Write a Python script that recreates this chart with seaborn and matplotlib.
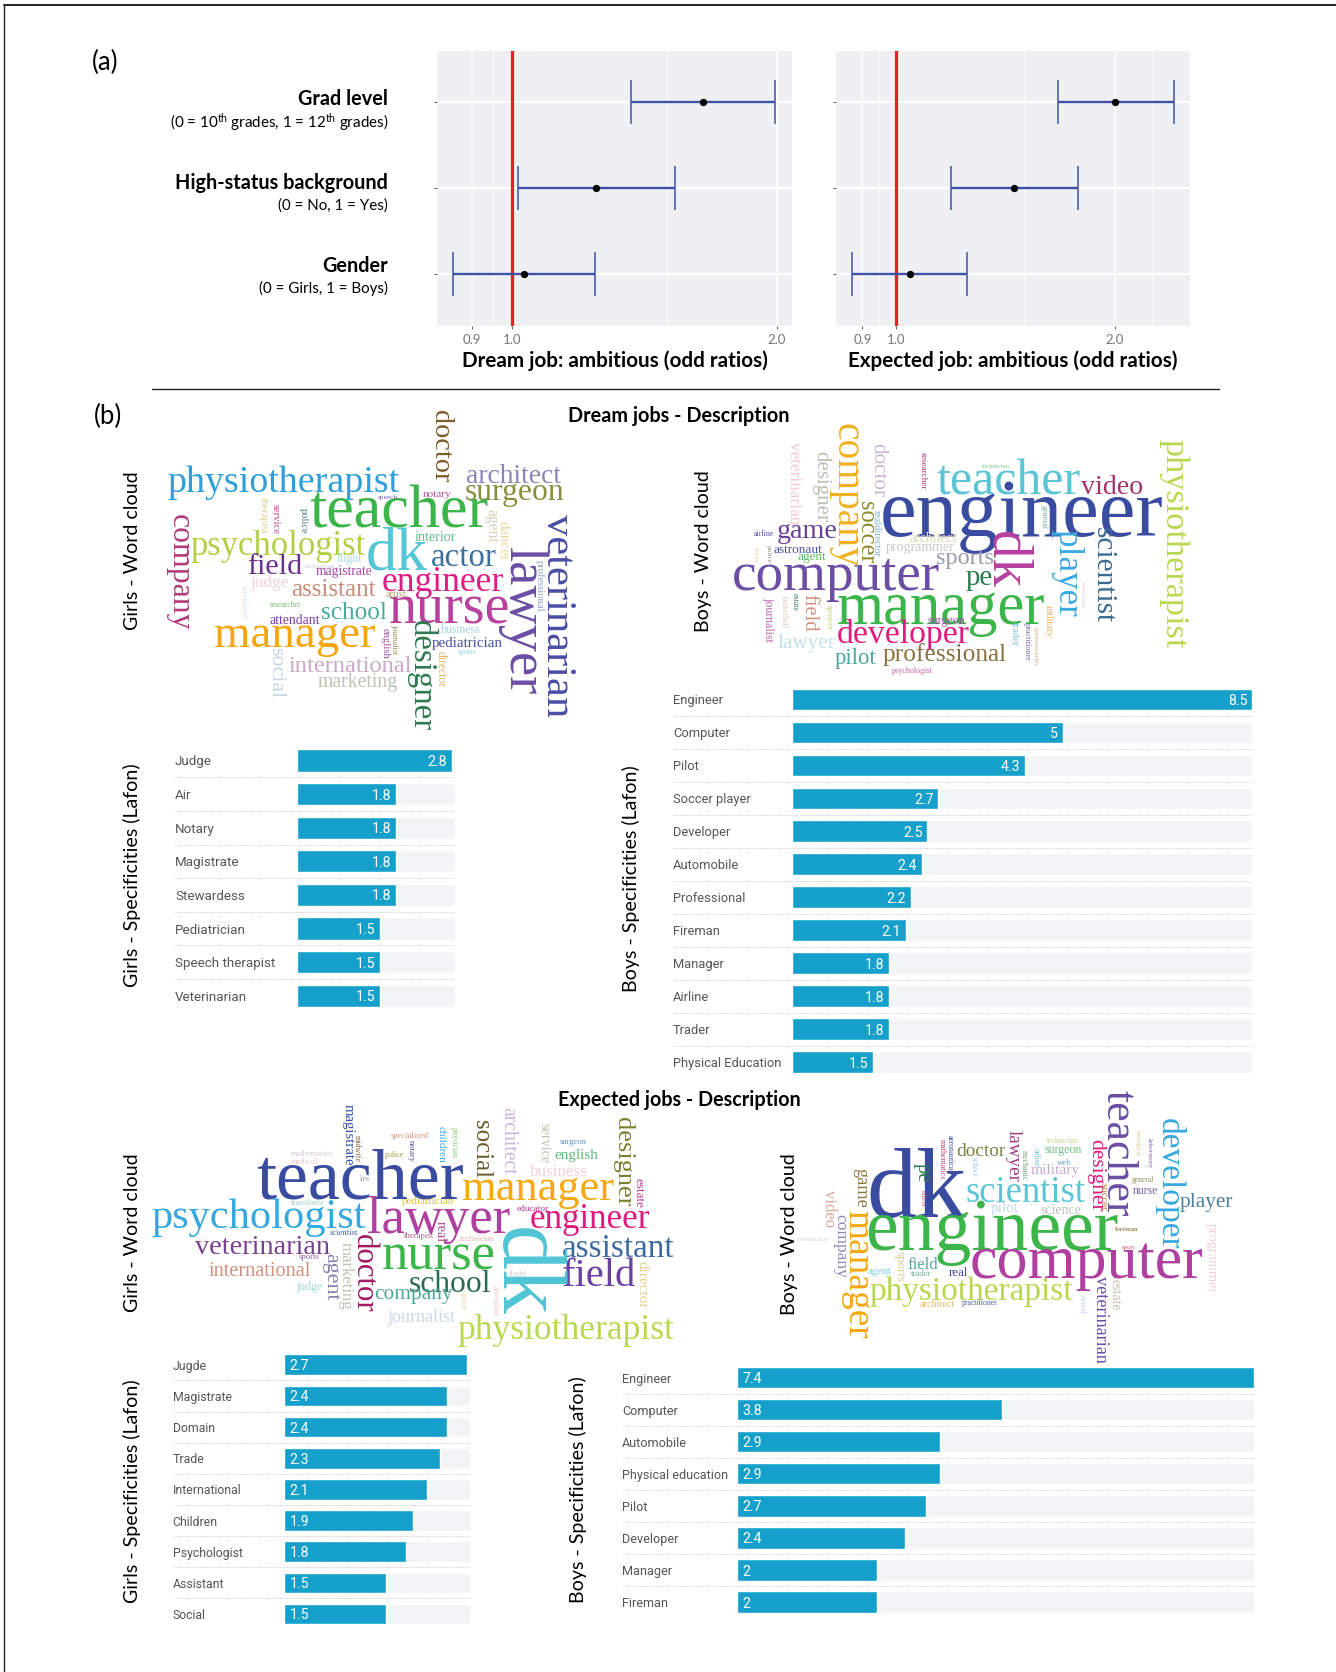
#!/usr/bin/env python3
import matplotlib
matplotlib.use('Agg')
import matplotlib.pyplot as plt
import seaborn as sns
from matplotlib.font_manager import FontProperties
from matplotlib.lines import Line2D
from matplotlib.textpath import TextPath

# ---- panel (a): odds ratios
predictors = ['Grad level', 'High-status background', 'Gender']
predictor_notes = ['(0 = 10$^{th}$ grades, 1 = 12$^{th}$ grades)', '(0 = No, 1 = Yes)', '(0 = Girls, 1 = Boys)']
dream_or = [1.647, 1.244, 1.03]
dream_low = [1.363, 1.015, 0.856]
dream_high = [1.99, 1.532, 1.242]
expected_or = [2.0, 1.454, 1.047]
expected_low = [1.669, 1.191, 0.871]
expected_high = [2.408, 1.78, 1.253]

# ---- panel (b): Lafon specificities
dream_girls_jobs = ['Judge', 'Air', 'Notary', 'Magistrate', 'Stewardess', 'Pediatrician', 'Speech therapist', 'Veterinarian']
dream_girls_vals = [2.8, 1.8, 1.8, 1.8, 1.8, 1.5, 1.5, 1.5]
dream_boys_jobs = ['Engineer', 'Computer', 'Pilot', 'Soccer player', 'Developer', 'Automobile', 'Professional',
                   'Fireman', 'Manager', 'Airline', 'Trader', 'Physical Education']
dream_boys_vals = [8.5, 5, 4.3, 2.7, 2.5, 2.4, 2.2, 2.1, 1.8, 1.8, 1.8, 1.5]
expected_girls_jobs = ['Jugde', 'Magistrate', 'Domain', 'Trade', 'International', 'Children', 'Psychologist', 'Assistant', 'Social']
expected_girls_vals = [2.7, 2.4, 2.4, 2.3, 2.1, 1.9, 1.8, 1.5, 1.5]
expected_boys_jobs = ['Engineer', 'Computer', 'Automobile', 'Physical education', 'Pilot', 'Developer', 'Manager', 'Fireman']
expected_boys_vals = [7.4, 3.8, 2.9, 2.9, 2.7, 2.4, 2, 2]

# ---- word clouds, word lists first and their placement after
dream_girls_words = ['physiotherapist', 'teacher', 'architect', 'surgeon', 'psychologist', 'dk', 'actor', 'field',
                     'engineer', 'assistant', 'nurse', 'school', 'manager', 'international', 'marketing', 'pediatrician',
                     'magistrate', 'interior', 'flight', 'judge', 'business', 'attendant', 'notary', 'artist', 'researcher',
                     'speech', 'technician', 'sports', 'doctor', 'company', 'veterinarian', 'lawyer', 'designer', 'social',
                     'police', 'service', 'therapist', 'agent', 'dancer', 'professional', 'english', 'journalist',
                     'director', 'specialized']
dream_boys_words = ['engineer', 'teacher', 'video', 'computer', 'manager', 'developer', 'pilot', 'professional', 'game',
                    'sports', 'pe', 'programmer', 'architect', 'astronaut', 'agent', 'airline', 'lawyer', 'surgeon',
                    'psychologist', 'technician', 'company', 'physiotherapist', 'doctor', 'designer', 'veterinarian',
                    'soccer', 'dk', 'player', 'scientist', 'field', 'journalist', 'realdirector', 'researcher', 'military',
                    'trader', 'practitioner', 'cybersecurity', 'basketball', 'estate', 'general', 'driver', 'police',
                    'sponsor', 'business']
expected_girls_words = ['teacher', 'manager', 'psychologist', 'lawyer', 'engineer', 'veterinarian', 'international', 'nurse',
                        'assistant', 'field', 'school', 'company', 'journalist', 'physiotherapist', 'business', 'english',
                        'pediatrician', 'surgeon', 'educator', 'scientist', 'therapist', 'judge', 'sports', 'specialized',
                        'mathematics', 'medical', 'translator', 'police', 'technician', 'flight', 'law', 'magistrate',
                        'social', 'architect', 'service', 'designer', 'children', 'physician', 'midwife', 'notary', 'estate',
                        'real', 'agent', 'marketing', 'doctor', 'dk', 'director', 'attendant', 'actor']
expected_boys_words = ['dk', 'engineer', 'computer', 'scientist', 'physiotherapist', 'doctor', 'military', 'surgeon', 'player',
                       'nurse', 'pilot', 'science', 'field', 'real', 'agent', 'trader', 'architect', 'practitioner', 'foreman',
                       'technician', 'web', 'general', 'sport', 'cybersecurity', 'teacher', 'developer', 'lawyer', 'designer',
                       'pe', 'game', 'video', 'manager', 'company', 'veterinarian', 'estate', 'programmer', 'sports', 'soccer',
                       'mechanic', 'mathematics', 'aeronautical', 'school', 'online', 'biological', 'laboratory', 'officer', 'dental']

# word: (start, end, cross centre, h/v, colour), in the units of the crop each cloud was measured on
dream_girls_layout = {
    'physiotherapist': (205, 900, 249, 'h', '#2f9fdc'), 'teacher': (630, 1165, 320, 'h', '#3bb54a'),
    'architect': (1100, 1382, 222, 'h', '#8a86b8'), 'surgeon': (1097, 1392, 285, 'h', '#8a8f3e'),
    'psychologist': (272, 795, 440, 'h', '#b2cf45'), 'dk': (805, 985, 446, 'h', '#56c5d5'),
    'actor': (995, 1188, 470, 'h', '#39709f'), 'field': (443, 605, 490, 'h', '#6a318f'),
    'engineer': (848, 1210, 548, 'h', '#e01b84'), 'assistant': (575, 828, 563, 'h', '#c58d7a'),
    'nurse': (870, 1225, 633, 'h', '#b8419d'), 'school': (665, 858, 630, 'h', '#4aa99f'),
    'manager': (345, 825, 721, 'h', '#f5a70f'), 'international': (568, 935, 790, 'h', '#c9a9c9'),
    'marketing': (655, 893, 847, 'h', '#b8c4b0'), 'pediatrician': (997, 1208, 730, 'h', '#4652a3'),
    'magistrate': (648, 815, 517, 'h', '#a845a0'), 'interior': (945, 1068, 408, 'h', '#5cc08f'),
    'flight': (710, 785, 478, 'h', '#a8dce8'), 'judge': (450, 565, 550, 'h', '#f3cfd0'),
    'business': (1020, 1138, 687, 'h', '#9fd8ea'), 'attendant': (510, 658, 657, 'h', '#7a3fa0'),
    'notary': (970, 1055, 284, 'h', '#b2559f'), 'artist': (858, 918, 582, 'h', '#b6a36a'),
    'researcher': (510, 605, 612, 'h', '#74bf6f'), 'speech': (835, 895, 291, 'h', '#7060b0'),
    'technician': (615, 705, 496, 'h', '#d8c8e0'), 'sports': (1075, 1128, 757, 'h', '#8fd0e0'),
    'doctor': (32, 245, 1030, 'v', '#7a5c2a'), 'company': (345, 690, 228, 'v', '#b03a78'),
    'veterinarian': (342, 950, 1382, 'v', '#4a4ea5'), 'lawyer': (445, 885, 1265, 'v', '#6a4ea5'),
    'designer': (665, 995, 962, 'v', '#2f7a50'), 'social': (745, 895, 537, 'v', '#c5d5e8'),
    'police': (325, 400, 611, 'v', '#5a7a80'), 'service': (312, 400, 529, 'v', '#c8458f'),
    'therapist': (290, 398, 490, 'v', '#dcd090'), 'agent': (330, 430, 1170, 'v', '#d8d0b8'),
    'dancer': (365, 482, 1215, 'v', '#e8d8a0'), 'professional': (480, 635, 1318, 'v', '#8aa0c8'),
    'english': (685, 775, 855, 'v', '#a0509a'), 'journalist': (670, 760, 882, 'v', '#9a8a50'),
    'director': (755, 862, 1025, 'v', '#e0b860'), 'specialized': (555, 655, 432, 'v', '#d0e0f0'),
}
dream_boys_layout = {
    'engineer': (588, 1400, 354, 'h', '#3a4ca0'), 'teacher': (745, 1160, 232, 'h', '#5cc5d5'),
    'video': (1165, 1342, 252, 'h', '#a8306a'), 'computer': (158, 755, 540, 'h', '#6d4ea5'),
    'manager': (460, 1060, 645, 'h', '#3cb54a'), 'developer': (460, 840, 705, 'h', '#e0197f'),
    'pilot': (450, 570, 775, 'h', '#4aa7a0'), 'professional': (588, 945, 765, 'h', '#8a7040'),
    'game': (285, 455, 400, 'h', '#6a3f9a'), 'sports': (745, 908, 480, 'h', '#9a9ab0'),
    'pe': (830, 905, 545, 'h', '#2a7a50'), 'programmer': (598, 798, 448, 'h', '#c8c8c8'),
    'architect': (668, 803, 411, 'h', '#e0d8b0'), 'astronaut': (272, 412, 447, 'h', '#5050a8'),
    'agent': (342, 424, 474, 'h', '#60c060'), 'airline': (215, 272, 400, 'h', '#5050b0'),
    'lawyer': (285, 450, 730, 'h', '#c8e0ee'), 'surgeon': (720, 828, 667, 'h', '#9a50a8'),
    'psychologist': (615, 733, 814, 'h', '#c860a8'), 'technician': (878, 958, 197, 'h', '#80c090'),
    'company': (75, 505, 470, 'v', '#f0b020'), 'physiotherapist': (120, 745, 1432, 'v', '#b8d850'),
    'doctor': (130, 290, 582, 'v', '#c8b8d0'), 'designer': (155, 365, 410, 'v', '#b8c0b0'),
    'veterinarian': (125, 370, 336, 'v', '#f3c8d0'), 'soccer': (305, 490, 538, 'v', '#8a8a30'),
    'dk': (400, 565, 960, 'v', '#b83fa0'), 'player': (390, 650, 1122, 'v', '#3aa8e0'),
    'scientist': (385, 668, 1235, 'v', '#3a6a90'), 'field': (585, 695, 383, 'v', '#d09080'),
    'journalist': (590, 725, 255, 'v', '#c060a8'), 'realdirector': (330, 468, 572, 'v', '#80b0d0'),
    'researcher': (158, 268, 707, 'v', '#a83070'), 'military': (615, 710, 1068, 'v', '#e8b050'),
    'trader': (665, 735, 973, 'v', '#80c0e0'), 'practitioner': (668, 780, 1006, 'v', '#7a6aa0'),
    'cybersecurity': (680, 800, 1032, 'v', '#d0b090'), 'basketball': (585, 680, 303, 'v', '#d8c8c0'),
    'estate': (580, 632, 335, 'v', '#408060'), 'general': (315, 385, 1057, 'v', '#70b0a0'),
    'driver': (440, 490, 220, 'v', '#e0d8a0'), 'police': (435, 488, 257, 'v', '#909080'),
    'sponsor': (615, 690, 430, 'v', '#c0d870'), 'business': (545, 620, 1172, 'v', '#e8d0d8'),
}
expected_girls_layout = {
    'teacher': (410, 950, 252, 'h', '#3a4ca0'), 'manager': (945, 1342, 310, 'h', '#f5a810'),
    'psychologist': (135, 695, 384, 'h', '#35a8e0'), 'lawyer': (700, 1070, 390, 'h', '#b040a0'),
    'engineer': (1125, 1435, 390, 'h', '#e0197f'), 'veterinarian': (248, 600, 463, 'h', '#7a3f90'),
    'international': (285, 550, 537, 'h', '#d09080'), 'nurse': (740, 1030, 501, 'h', '#3cb54a'),
    'assistant': (1210, 1500, 470, 'h', '#3a6a9f'), 'field': (1210, 1400, 547, 'h', '#6a40a5'),
    'school': (810, 1020, 575, 'h', '#2a6a50'), 'company': (718, 920, 620, 'h', '#4aa89a'),
    'journalist': (750, 930, 682, 'h', '#c8d8ea'), 'physiotherapist': (935, 1500, 723, 'h', '#b8d850'),
    'business': (1120, 1270, 240, 'h', '#f3d0d8'), 'english': (1190, 1302, 195, 'h', '#60b878'),
    'pediatrician': (790, 925, 333, 'h', '#e0c040'), 'surgeon': (1203, 1272, 159, 'h', '#6090c0'),
    'educator': (1090, 1172, 353, 'h', '#c03090'), 'scientist': (600, 672, 427, 'h', '#4060b0'),
    'therapist': (793, 870, 438, 'h', '#b06080'), 'judge': (512, 580, 591, 'h', '#a0d8e0'),
    'sports': (520, 572, 503, 'h', '#9060b0'), 'specialized': (760, 858, 138, 'h', '#d89080'),
    'mathematics': (498, 608, 190, 'h', '#d0c8e0'), 'medical': (500, 570, 212, 'h', '#e8c8c8'),
    'translator': (498, 585, 337, 'h', '#a0d0d0'), 'police': (745, 795, 194, 'h', '#a0a040'),
    'technician': (940, 1030, 445, 'h', '#e0b8b8'), 'flight': (1070, 1115, 553, 'h', '#d0d0d0'),
    'law': (680, 708, 265, 'h', '#a0a0a0'), 'magistrate': (42, 225, 647, 'v', '#3c50a0'),
    'social': (92, 262, 1003, 'v', '#6a5a30'), 'architect': (52, 252, 1070, 'v', '#c8b8d8'),
    'service': (100, 218, 1162, 'v', '#c0c0b0'), 'designer': (85, 350, 1367, 'v', '#7a8030'),
    'children': (110, 218, 896, 'v', '#40a8e0'), 'physician': (112, 205, 925, 'v', '#90c870'),
    'midwife': (135, 215, 672, 'v', '#806040'), 'notary': (150, 215, 810, 'v', '#605090'),
    'estate': (265, 352, 1408, 'v', '#c04090'), 'real': (393, 455, 893, 'v', '#b04080'),
    'agent': (492, 632, 600, 'v', '#8a80b0'), 'marketing': (458, 660, 642, 'v', '#b8c8b0'),
    'doctor': (435, 668, 695, 'v', '#a01a60'), 'dk': (420, 680, 1125, 'v', '#50c5d5'),
    'director': (515, 655, 1422, 'v', '#e0d090'), 'attendant': (590, 680, 1033, 'v', '#f0c8c8'),
    'actor': (608, 660, 950, 'v', '#e0d8a0'),
}
expected_boys_layout = {
    'dk': (300, 590, 308, 'h', '#3a4ca0'), 'engineer': (295, 1045, 460, 'h', '#3cb54a'),
    'computer': (605, 1298, 560, 'h', '#b040a0'), 'scientist': (590, 945, 330, 'h', '#5cc5d5'),
    'physiotherapist': (300, 908, 635, 'h', '#b8d850'), 'doctor': (560, 705, 208, 'h', '#7a8040'),
    'military': (782, 928, 272, 'h', '#c8a8d0'), 'surgeon': (825, 935, 214, 'h', '#70c080'),
    'player': (1230, 1388, 366, 'h', '#5080a0'), 'nurse': (1088, 1162, 335, 'h', '#8060b0'),
    'pilot': (662, 745, 386, 'h', '#c8dce8'), 'science': (812, 930, 390, 'h', '#b8c8b8'),
    'field': (415, 505, 550, 'h', '#50a8a0'), 'real': (538, 595, 574, 'h', '#4040a0'),
    'agent': (295, 365, 575, 'h', '#80d0e0'), 'trader': (422, 482, 580, 'h', '#70b090'),
    'architect': (450, 555, 671, 'h', '#e8b860'), 'practitioner': (575, 682, 669, 'h', '#5060a0'),
    'foreman': (1035, 1105, 446, 'h', '#806020'), 'technician': (830, 925, 182, 'h', '#c0d880'),
    'web': (862, 905, 245, 'h', '#60a0d8'), 'general': (1085, 1150, 300, 'h', '#909050'),
    'sport': (1055, 1095, 502, 'h', '#d06080'), 'cybersecurity': (82, 182, 480, 'h', '#d8d8c8'),
    'teacher': (32, 410, 1055, 'v', '#6a4ea5'), 'developer': (118, 510, 1195, 'v', '#35a8e0'),
    'lawyer': (150, 305, 731, 'v', '#a03a80'), 'designer': (180, 395, 980, 'v', '#e0197f'),
    'pe': (250, 305, 451, 'v', '#2a7a50'), 'game': (265, 380, 268, 'v', '#8a7a40'),
    'video': (330, 440, 181, 'v', '#d8a8a0'), 'manager': (392, 775, 252, 'v', '#f5a810'),
    'company': (405, 595, 205, 'v', '#8a88b8'), 'veterinarian': (588, 848, 995, 'v', '#6a4ea5'),
    'estate': (598, 690, 1036, 'v', '#c8c0b0'), 'programmer': (430, 640, 1320, 'v', '#f3d0d8'),
    'sports': (515, 605, 386, 'v', '#d8c890'), 'soccer': (310, 392, 999, 'v', '#c08030'),
    'mechanic': (210, 300, 764, 'v', '#70a080'), 'mathematics': (178, 298, 517, 'v', '#c04080'),
    'aeronautical': (165, 275, 542, 'v', '#4050a0'), 'school': (232, 290, 614, 'v', '#a0c8e0'),
    'online': (205, 260, 798, 'v', '#70c0d0'), 'biological': (148, 225, 1102, 'v', '#e0c890'),
    'laboratory': (175, 265, 1140, 'v', '#8060b0'), 'officer': (330, 380, 459, 'v', '#c06060'),
    'dental': (645, 700, 937, 'v', '#c0d0e8'),
}

W, H = 1336, 1672
BAR = '#15a0cc'
TRACK = '#f3f4f5'
CLOUD_FONT = FontProperties(family='Liberation Serif')

sns.set_theme(style='white')
plt.rcParams['font.family'] = ['Lato', 'DejaVu Sans']
plt.rcParams['mathtext.default'] = 'regular'

fig = plt.figure(figsize=(W / 100, H / 100), dpi=100, facecolor='white')


def px_axes(x0, y0, x1, y1):
    # axes from pixel box, y counted from the top like in the picture
    return fig.add_axes([x0 / W, 1 - y1 / H, (x1 - x0) / W, (y1 - y0) / H])


def odds_panel(box, xlim, minor, odds, low, high, title):
    ax = px_axes(*box)
    ax.set_facecolor('#eff0f2')
    ax.set_xscale('log')
    for spine in ax.spines.values():
        spine.set_visible(False)
    rows = list(range(len(odds)))
    ax.set_xticks([0.9, 1.0, 2.0], ['0.9', '1.0', '2.0'])
    ax.set_xticks(minor, minor=True)
    ax.set_xticklabels([], minor=True)
    ax.set_yticks(rows, [''] * len(rows))
    ax.grid(True, which='major', axis='x', color='white', lw=1.1)
    ax.grid(True, which='major', axis='y', color='white', lw=1.6)
    ax.grid(True, which='minor', axis='x', color='white', lw=0.6)
    ax.set_axisbelow(True)
    ax.tick_params(axis='both', which='major', length=2.5, width=0.7, color='#555555', labelsize=9.5,
                   labelcolor='#777777', pad=3, bottom=True, left=True)
    ax.tick_params(axis='x', which='minor', length=0)
    ax.axvline(1.0, color='#ee1c25', lw=2.3, zorder=4)
    ax.errorbar(odds, rows, xerr=[[o - l for o, l in zip(odds, low)], [h - o for o, h in zip(odds, high)]],
                fmt='none', ecolor='#3f51a8', elinewidth=1.7, capsize=15.5, capthick=1.1, zorder=5)
    sns.scatterplot(x=odds, y=rows, color='black', s=28, linewidth=0, zorder=6, ax=ax)
    ax.set_xlim(*xlim)
    ax.set_ylim(2.6, -0.597)
    ax.set_xlabel(title, fontsize=14.85, fontweight='bold', color='black', labelpad=3.5)
    ax.set_ylabel('')
    return ax


def bar_panel(jobs, vals, xmax, x0, x1, top, row, label_x, label_end, label_size):
    n = len(jobs)
    ax = px_axes(x0, top, x1, top + n * row)
    sns.barplot(x=[xmax] * n, y=jobs, color=TRACK, saturation=1, width=0.66, orient='h', ax=ax)
    sns.barplot(x=vals, y=jobs, color=BAR, saturation=1, width=0.66, orient='h', ax=ax)
    ax.set_xlim(0, xmax)
    ax.set_ylim(n - 0.5, -0.5)
    ax.set_xticks([])
    ax.set(xlabel='', ylabel='')
    sns.despine(ax=ax, left=True, bottom=True)
    ax.tick_params(axis='y', length=0, pad=(x0 - label_x) * 0.72, labelsize=label_size, labelcolor='#555555')
    for lab in ax.get_yticklabels():
        lab.set_ha('left')
        lab.set_family(['Roboto', 'DejaVu Sans'])
    # dotted rules between the rows
    start = (label_x - x0) / (x1 - x0)
    for i in range(n - 1):
        ax.plot([start, 1], [i + 0.5, i + 0.5], transform=ax.get_yaxis_transform(), clip_on=False,
                color='#d2d2d2', lw=0.8, ls=(0, (1, 1)))
    for i, v in enumerate(vals):
        if label_end:
            ax.annotate(f'{v:g}', (v, i), xytext=(-3.5, 0), textcoords='offset points', ha='right', va='center_baseline',
                        color='white', fontsize=10.2, family=['Roboto', 'DejaVu Sans'])
        else:
            ax.annotate(f'{v:g}', (0, i), xytext=(4, 0), textcoords='offset points', ha='left', va='center_baseline',
                        color='white', fontsize=10.2, family=['Roboto', 'DejaVu Sans'])
    return ax


def draw_word(ax, word, spec, ox, oy, sx, sy):
    a0, a1, c, way, colour = spec
    ext = TextPath((0, 0), word, size=100, prop=CLOUD_FONT).get_extents()
    if way == 'h':
        k = (a1 - a0) * sx / ext.width
        x = ox + (a0 + a1) / 2 * sx - (ext.x0 + ext.width / 2) * k
        y = oy + c * sy + (ext.y0 + ext.height / 2) * k
        rot = 0
    else:
        k = (a1 - a0) * sy / ext.width
        x = ox + c * sx - (ext.y0 + ext.height / 2) * k
        y = oy + (a0 + a1) / 2 * sy - (ext.x0 + ext.width / 2) * k
        rot = -90
    ax.text(x, y, word, fontproperties=CLOUD_FONT, fontsize=k * 100 * 0.72, color=colour, rotation=rot,
            rotation_mode='anchor', ha='left', va='baseline')


odds_panel((437, 51, 792, 326), (0.821, 2.08), [0.95, 1.5], dream_or, dream_low, dream_high,
           'Dream job: ambitious (odd ratios)')
odds_panel((836, 51, 1190, 326), (0.828, 2.535), [0.95, 1.5, 2.25], expected_or, expected_low, expected_high,
           'Expected job: ambitious (odd ratios)')

bar_panel(dream_girls_jobs, dream_girls_vals, 2.85, 296.7, 454.7, 743.7, 33.6, 175, True, 9.6)
bar_panel(dream_boys_jobs, dream_boys_vals, 8.5, 792, 1252.4, 683, 32.97, 672.8, True, 9.3)
bar_panel(expected_girls_jobs, expected_girls_vals, 2.74, 284.2, 470.2, 1349.2, 31.15, 172.7, False, 8.85)
bar_panel(expected_boys_jobs, expected_boys_vals, 7.4, 737, 1254, 1361.7, 32.05, 622, False, 9.05)

# overlay in picture pixels for the word clouds and free labels
over = fig.add_axes([0, 0, 1, 1], facecolor='none')
over.set_xlim(0, W)
over.set_ylim(H, 0)
over.axis('off')

for words, layout, ox, oy, sx, sy in [
    (dream_girls_words, dream_girls_layout, 100, 400, 1 / 3, 1 / 3),
    (dream_boys_words, dream_boys_layout, 680, 400, 0.3444, 1 / 3),
    (expected_girls_words, expected_girls_layout, 100, 1090, 0.3827, 1 / 3),
    (expected_boys_words, expected_boys_layout, 770, 1080, 1 / 3, 1 / 3),
]:
    for word in words:
        draw_word(over, word, layout[word], ox, oy, sx, sy)

for name, note, y_name, y_note in zip(predictors, predictor_notes, [99, 183, 266], [123, 206, 288]):
    over.text(388, y_name, name, ha='right', va='center', fontsize=14.3, fontweight='bold', color='black')
    over.text(388, y_note, note, ha='right', va='center', fontsize=10.9, color='black')

over.text(92, 62, '(a)', fontsize=18.5, va='center', color='black')
over.text(94, 416, '(b)', fontsize=18.5, va='center', color='black')
over.text(679, 416, 'Dream jobs - Description', ha='center', va='center', fontsize=14.3, fontweight='bold', color='black')
over.text(679, 1100, 'Expected jobs - Description', ha='center', va='center', fontsize=14.2, fontweight='bold', color='black')

side_labels = [('Girls - Word cloud', 132, 551), ('Boys - Word cloud', 704, 551),
               ('Girls - Specificities (Lafon)', 132, 875), ('Boys - Specificities (Lafon)', 631, 879),
               ('Girls - Word cloud', 132, 1233), ('Boys - Word cloud', 790, 1234),
               ('Girls - Specificities (Lafon)', 132, 1491), ('Boys - Specificities (Lafon)', 578, 1490)]
for text, x, y in side_labels:
    over.text(x, y, text, rotation=90, ha='center', va='center', fontsize=14.1, color='black')

over.add_line(Line2D([152, 1219], [389, 389], color='#222222', lw=1.0))
# frame left over from the page
over.add_line(Line2D([3.5, 3.5], [5, H], color='#222222', lw=1.0))
over.add_line(Line2D([3.5, W], [5, 5], color='#222222', lw=1.4))

fig.savefig('out.png', dpi=100, facecolor='white')
